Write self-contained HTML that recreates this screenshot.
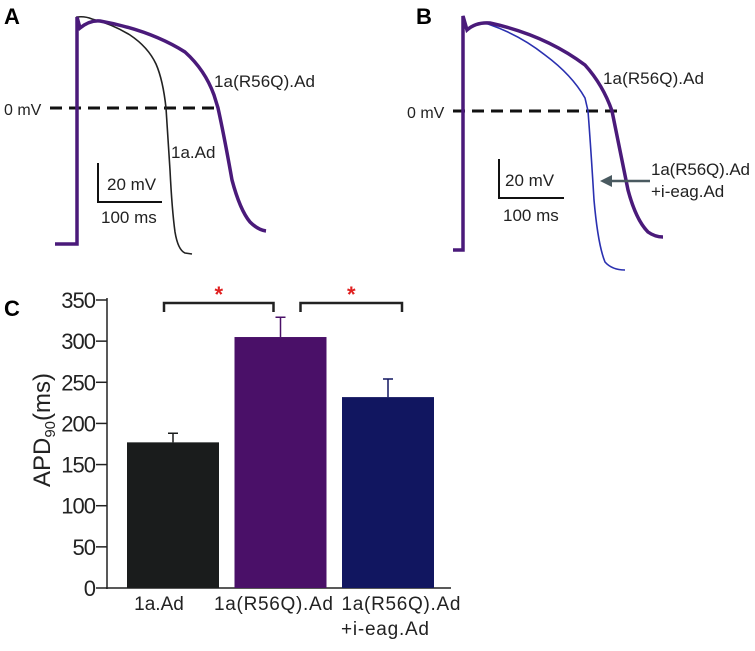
<!DOCTYPE html>
<html><head><meta charset="utf-8"><style>
body{margin:0;background:#fff;width:755px;height:646px;overflow:hidden}
svg{font-family:"Liberation Sans",sans-serif}
</style></head><body>
<svg id="fig" width="755" height="646">
<!-- Panel A -->
<text x="4" y="24" font-size="22" font-weight="bold">A</text>
<line x1="50" y1="108" x2="217" y2="108" stroke="#111" stroke-width="3" stroke-dasharray="12,7"/>
<text x="4" y="115" font-size="16" fill="#222">0 mV</text>
<path d="M55,244 L77,244 L77,17 Q85,16 92,19 Q112,24 130,35 Q148,47 156,64 Q163,80 166,108 L170,170 Q172,210 175,232 Q178,250 185,253 L192,254" fill="none" stroke="#222" stroke-width="1.6"/>
<path d="M55,244 L77,244 L77,17 L80,28 Q90,20 100,21 Q150,30 185,52 Q205,70 214,95 L218,108 Q224,135 232,180 Q240,210 250,222 Q258,230 266,231" fill="none" stroke="#4a1a7a" stroke-width="3.5"/>
<text x="214" y="87" font-size="17" fill="#222" textLength="101">1a(R56Q).Ad</text>
<text x="171" y="158" font-size="17" fill="#222">1a.Ad</text>
<path d="M98,163 L98,202 L162,202" fill="none" stroke="#111" stroke-width="2"/>
<text x="107" y="190" font-size="17" fill="#222">20 mV</text>
<text x="101" y="223" font-size="17" fill="#222">100 ms</text>
<!-- Panel B -->
<text x="416" y="24" font-size="22" font-weight="bold">B</text>
<line x1="453" y1="111" x2="622" y2="111" stroke="#111" stroke-width="3" stroke-dasharray="12,7"/>
<text x="407" y="118" font-size="16" fill="#222">0 mV</text>
<path d="M453,250 L463,250 L463,16 L467,30 Q476,22 488,24 Q520,35 545,55 Q572,75 585,98 L588,111 Q591,150 594,200 Q598,245 605,262 Q612,270 625,270" fill="none" stroke="#2a30b0" stroke-width="1.6"/>
<path d="M453,250 L463,250 L463,16 L467,30 Q476,22 490,23 Q545,35 585,65 Q603,85 612,111 Q620,150 628,190 Q636,220 648,232 Q655,237 663,237" fill="none" stroke="#4a1a7a" stroke-width="3.5"/>
<text x="603" y="84" font-size="17" fill="#222" textLength="101">1a(R56Q).Ad</text>
<line x1="650" y1="181" x2="608" y2="181" stroke="#4a5a60" stroke-width="2.5"/>
<path d="M600,181 L612,175 L612,187 Z" fill="#4a5a60"/>
<text x="651" y="175" font-size="17" fill="#222" textLength="99">1a(R56Q).Ad</text>
<text x="651" y="197" font-size="17" fill="#222">+i-eag.Ad</text>
<path d="M499,159 L499,198 L564,198" fill="none" stroke="#111" stroke-width="2"/>
<text x="505" y="186" font-size="17" fill="#222">20 mV</text>
<text x="503" y="221" font-size="17" fill="#222">100 ms</text>
<!-- Panel C -->
<text x="4" y="316" font-size="22" font-weight="bold">C</text>
<g id="chart"></g>
</svg>
<script>
const categories = ["1a.Ad", "1a(R56Q).Ad", "1a(R56Q).Ad|+i-eag.Ad"];
const means = [177, 305, 232];
const errors = [11, 24, 22];
const tickValues = [0, 50, 100, 150, 200, 250, 300, 350];
const barColors = ["#1a1c1c", "#4a1068", "#111660"];

const NS = "http://www.w3.org/2000/svg";
const g = document.getElementById("chart");
const y0 = 588, yTop = 300, yMax = 350;
const yScale = v => y0 - (v / yMax) * (y0 - yTop);
const barX = i => 127 + i * 107.5;
const barW = 92;
const labelShift = [-14, -7, 13];
function mk(tag, attrs, parent) {
  const e = document.createElementNS(NS, tag);
  for (const k in attrs) e.setAttribute(k, attrs[k]);
  (parent || g).appendChild(e);
  return e;
}
let e = mk("line", {x1:107, y1:yTop-2, x2:107, y2:y0+1, stroke:"#222", "stroke-width":1.5});


e = mk("line", {x1:106, y1:y0, x2:451, y2:y0, stroke:"#222", "stroke-width":1.5});


tickValues.forEach(v => {
  const t = mk("line", {x1:96, y1:yScale(v), x2:107, y2:yScale(v), stroke:"#222", "stroke-width":1.5});
  
  
  const l = mk("text", {x:95, y:yScale(v)+8, "font-size":22, "text-anchor":"end", fill:"#222", "letter-spacing":"-1"});
  l.textContent = v;
  
  
});
const yt = mk("text", {transform:"translate(50,430) rotate(-90)", "font-size":24, "text-anchor":"middle", fill:"#222"});
yt.innerHTML = 'APD<tspan font-size="15" dy="5">90</tspan><tspan dy="-5">(ms)</tspan>';


categories.forEach((c, i) => {
  const x = barX(i);
  const b = mk("rect", {x:x, y:yScale(means[i]), width:barW, height:y0-yScale(means[i]), fill:barColors[i]});
  
  
  const cx = x + barW/2;
  const eb = mk("path", {d:`M${cx},${yScale(means[i])} L${cx},${yScale(means[i]+errors[i])} M${cx-5},${yScale(means[i]+errors[i])} L${cx+5},${yScale(means[i]+errors[i])}`, stroke:barColors[i], "stroke-width":1.5, fill:"none"});
  
  
  const lc = cx + labelShift[i];
  c.split("|").forEach((line, k) => {
    const attrs = k ? {x:lc-60, y:635, "font-size":19, fill:"#222", textLength:88}
                    : {x:lc, y:610, "font-size":19, "text-anchor":"middle", fill:"#222"};
    if (!k && line.length > 6) attrs.textLength = 119;
    const t = mk("text", attrs);
    t.textContent = line;
    
    
  });
});
[[0,1],[1,2]].forEach(([a,b]) => {
  const xa2 = a ? barX(a)+barW/2+20 : barX(a)+barW/2-9;
  const xb2 = a ? barX(b)+barW/2+14 : barX(b)+barW/2-7;
  const br = mk("path", {d:`M${xa2},${312} L${xa2},${303} L${xb2},${303} L${xb2},${312}`, stroke:"#222", "stroke-width":2.5, fill:"none"});
  
  
  const s = mk("text", {x:(xa2+xb2)/2, y:302, "font-size":22, "font-weight":"bold", "text-anchor":"middle", fill:"#e02020"});
  s.textContent = "*";
  
  
});
</script>
</body></html>
